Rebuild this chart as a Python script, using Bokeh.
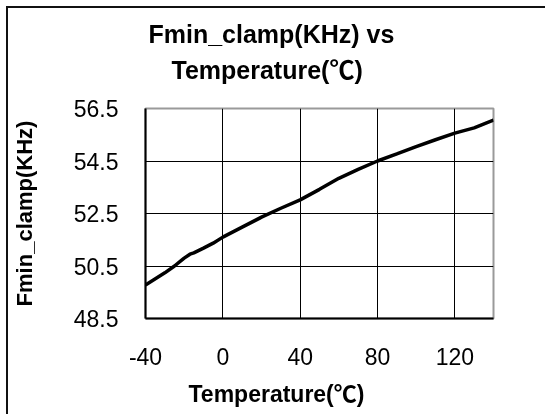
from bokeh.plotting import figure
from bokeh.models import Range1d, FixedTicker, Title
from bokeh.embed import file_html
from bokeh.resources import INLINE

# Data
temperature = [-40, -30, -25, -20, -17, -15, -10, -5, 0, 10, 20, 30, 40, 50, 60, 70, 80, 90, 100, 110, 120, 130, 140]
fmin_clamp = [49.78, 50.24, 50.5, 50.8, 50.95, 51.0, 51.18, 51.37, 51.6, 51.98, 52.36, 52.7, 53.02, 53.42, 53.84,
              54.18, 54.5, 54.77, 55.05, 55.31, 55.56, 55.76, 56.06]
x_ticks = [-40, 0, 40, 80, 120]
y_ticks = [48.5, 50.5, 52.5, 54.5, 56.5]

title_line1 = "Fmin_clamp(KHz) vs"
title_line2 = "Temperature(\u2103)"
x_label = "Temperature(\u2103)"
y_label = "Fmin_clamp(KHz)"

FONT = "Liberation Sans, Noto Sans CJK SC"

p = figure(width=539, height=420, output_backend="svg", toolbar_location=None,
           x_range=Range1d(-40, 140), y_range=Range1d(48.5, 56.5),
           min_border_left=136, min_border_right=54, min_border_top=100, min_border_bottom=110)
p.styles = {"position": "fixed", "left": "8px", "top": "8px",
            "box-shadow": "-2px -2px 0 0 #111"}

p.background_fill_color = "white"
p.border_fill_color = "white"
p.outline_line_color = "#9a9a9a"
p.outline_line_width = 2

p.xaxis.ticker = FixedTicker(ticks=x_ticks)
p.yaxis.ticker = FixedTicker(ticks=y_ticks)
p.xaxis.major_label_overrides = {t: str(t) for t in x_ticks}
for ax in (p.xaxis, p.yaxis):
    ax.axis_line_color = "black"
    ax.axis_line_width = 2
    ax.major_tick_out = 0
    ax.major_tick_in = 0
    ax.minor_tick_out = 0
    ax.minor_tick_in = 0
    ax.major_label_text_font = FONT
    ax.major_label_text_font_size = "23px"
    ax.major_label_text_color = "black"
p.yaxis.major_label_standoff = 27
p.xaxis.major_label_standoff = 29

p.yaxis.axis_label = y_label
p.yaxis.axis_label_text_font = FONT
p.yaxis.axis_label_text_font_size = "22px"
p.yaxis.axis_label_text_font_style = "bold"
p.yaxis.axis_label_text_color = "black"
p.yaxis.axis_label_standoff = 34

p.xgrid.grid_line_color = "black"
p.ygrid.grid_line_color = "black"
p.xgrid.grid_line_width = 1
p.ygrid.grid_line_width = 1

p.line(temperature, fmin_clamp, line_color="black", line_width=3.5)

# Two-line title, left aligned with offsets so each line is centred like the reference
p.title.text = title_line1
p.title.align = "left"
p.title.offset = 3
p.title.text_font = FONT
p.title.text_font_size = "25px"
p.title.text_font_style = "bold"
p.title.text_color = "black"
p.title.standoff = 2

# small spacer between the second title line and the plot area
p.add_layout(Title(text=" ", text_font_size="12px", standoff=4), "above")
p.add_layout(Title(text=title_line2, align="left", offset=26, text_font=FONT, text_font_size="25px",
                   text_font_style="bold", text_color="black", standoff=10), "above")

p.add_layout(Title(text=x_label, align="left", offset=43, text_font=FONT, text_font_size="23px",
                   text_font_style="bold", text_color="black", standoff=22), "below")

open("out.html", "w").write(file_html(p, INLINE))
